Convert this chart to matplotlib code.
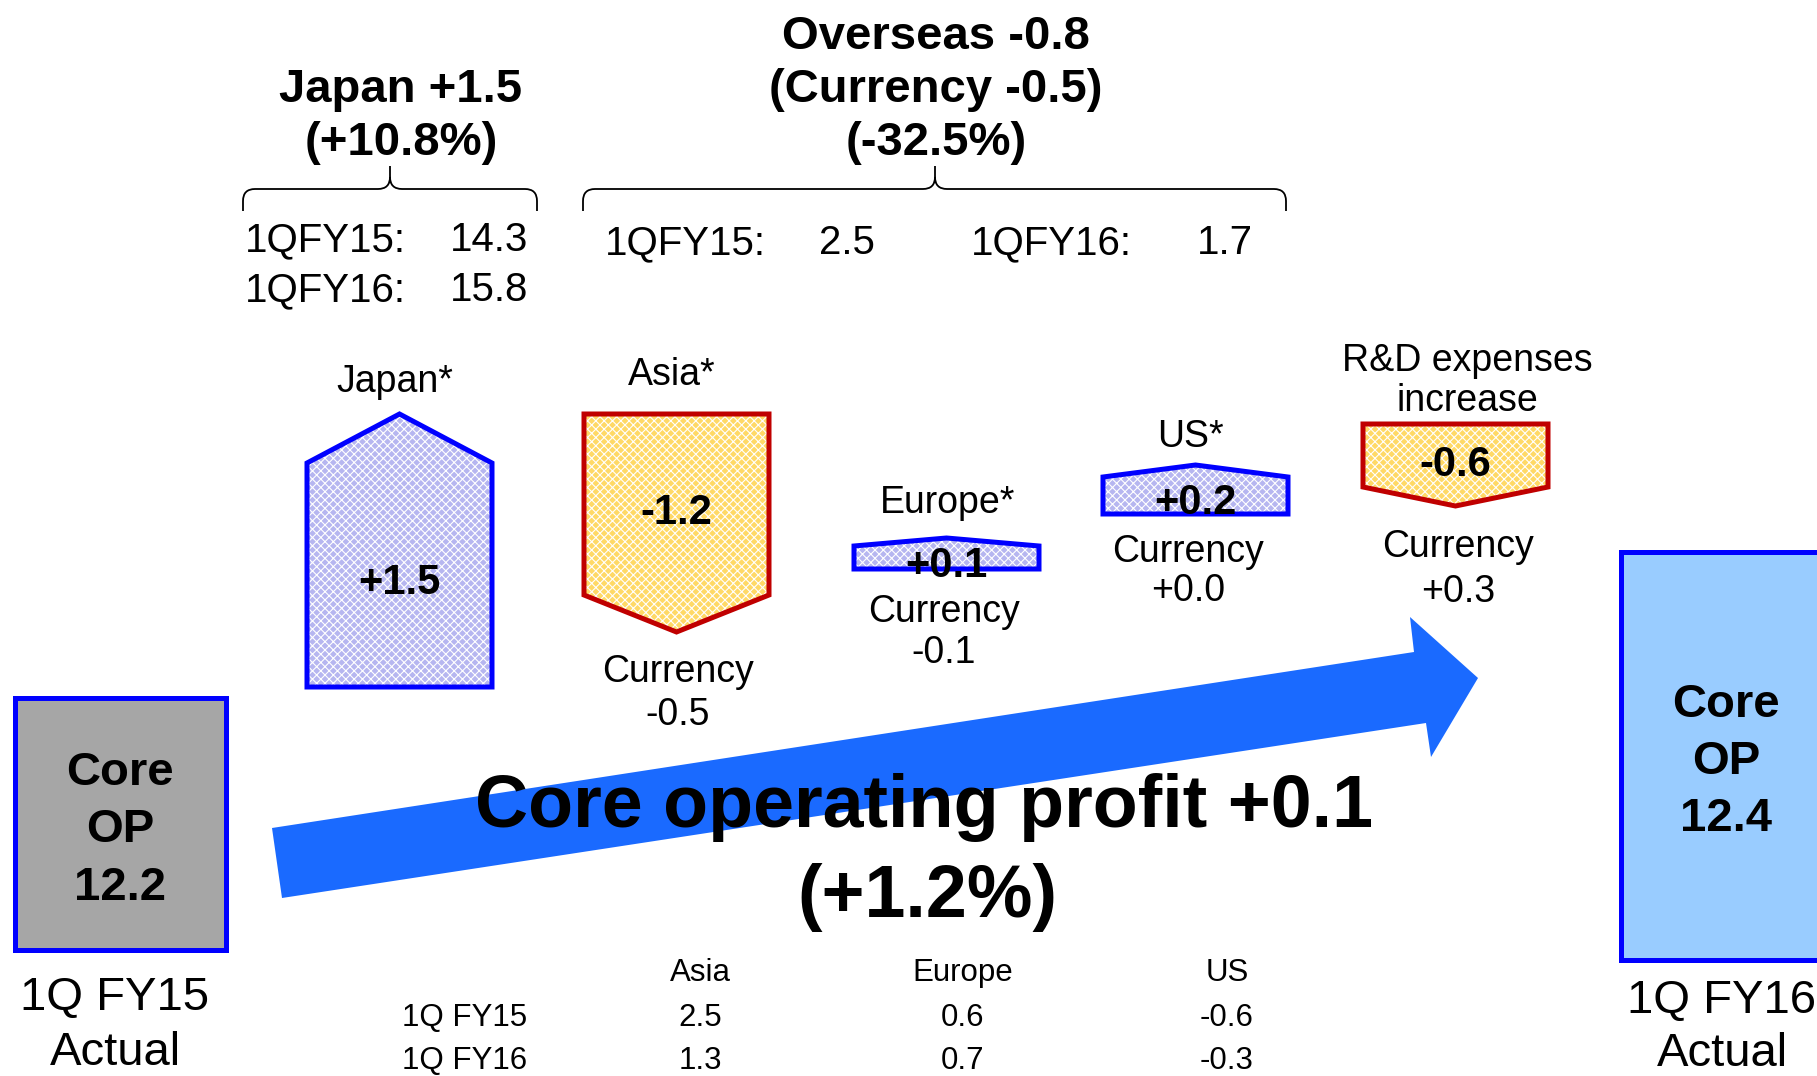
import matplotlib
matplotlib.use("Agg")
import matplotlib.pyplot as plt
from matplotlib.patches import Polygon, Rectangle, PathPatch
from matplotlib.path import Path

plt.rcParams['font.family'] = ['Liberation Sans', 'DejaVu Sans']
plt.rcParams['hatch.linewidth'] = 0.8

# ---------------- data ----------------
segments = ["Japan*", "Asia*", "Europe*", "US*", "R&D expenses\nincrease"]
changes = [1.5, -1.2, 0.1, 0.2, -0.6]
currency = [None, -0.5, -0.1, 0.0, 0.3]

core_op = [12.2, 12.4]
period_labels = ["1Q FY15\nActual", "1Q FY16\nActual"]

japan_total = [14.3, 15.8]
overseas_total = [2.5, 1.7]
period_short = ["1QFY15:", "1QFY16:"]

japan_change, japan_pct = 1.5, 10.8
overseas_change, overseas_ccy, overseas_pct = -0.8, -0.5, -32.5
total_change, total_pct = 0.1, 1.2

table_cols = ["Asia", "Europe", "US"]
table_rows = ["1Q FY15", "1Q FY16"]
table_fy15 = [2.5, 0.6, -0.6]
table_fy16 = [1.3, 0.7, -0.3]

# ---------------- layout (pixel space) ----------------
W, H = 1817, 1076
fig = plt.figure(figsize=(W / 100, H / 100), dpi=100)
ax = fig.add_axes([0, 0, 1, 1])
ax.set_xlim(0, W)
ax.set_ylim(H, 0)
ax.axis('off')

DY = 5  # vertical text offset (center of glyphs vs. bbox)

BLUE = '#0000FF'
RED = '#C00000'
LAV = '#B6B6F0'
YEL = '#FFD966'
ARROW = '#1A6AFF'

# shape geometry: left x, right x, top y, shoulder y, bottom y
shape_x0 = [307, 584, 854, 1103, 1363]
shape_w = 185
shape_top = [414, 414, 538, 465, 424]
shape_shoulder = [463, 595, 546, 477, 487]
shape_bottom = [687, 632, 569, 514, 506]
value_y = [578, 508, 561, 498, 460]
label_x = [395, 672, 948, 1190, 1467]
label_y = [[377], [370], [498], [432], [356, 396]]
ccy_x = [None, 678, 944, 1188, 1458]
ccy_y = [None, (667, 710), (607, 648), (547, 586), (542, 587)]


def txt(x, y, s, **kw):
    ax.text(x, y + DY, s, ha=kw.pop('ha', 'center'), va='center', **kw)


def draw_shape(i):
    x0 = shape_x0[i]
    x1 = x0 + shape_w
    xc = (x0 + x1) / 2
    t, s, b = shape_top[i], shape_shoulder[i], shape_bottom[i]
    if changes[i] >= 0:
        pts = [(x0, b), (x0, s), (xc, t), (x1, s), (x1, b)]
        fc, ec = LAV, BLUE
    else:
        pts = [(x0, t), (x1, t), (x1, s), (xc, b), (x0, s)]
        fc, ec = YEL, RED
    ax.add_patch(Polygon(pts, closed=True, facecolor=fc, edgecolor='white',
                         linewidth=0, hatch='xxxx', zorder=2))
    ax.add_patch(Polygon(pts, closed=True, facecolor='none', edgecolor=ec,
                         linewidth=3.6, joinstyle='miter', zorder=3))
    txt(xc, value_y[i], f"{changes[i]:+.1f}", fontsize=30, fontweight='bold', zorder=5)
    for ln, yy in zip(segments[i].split("\n"), label_y[i]):
        txt(label_x[i], yy, ln, fontsize=27, zorder=5)
    if currency[i] is not None:
        cy = ccy_y[i]
        txt(ccy_x[i], cy[0], "Currency", fontsize=27, zorder=5)
        txt(ccy_x[i], cy[1], f"{currency[i]:+.1f}", fontsize=27, zorder=5)


for i in range(len(segments)):
    draw_shape(i)

# ---------------- big arrow ----------------
arrow_pts = [(272, 828), (1414, 652), (1410, 617), (1478, 678),
             (1431, 757), (1426, 723), (282, 898)]
ax.add_patch(Polygon(arrow_pts, closed=True, facecolor=ARROW, edgecolor='none', zorder=1))

txt(924, 802, f"Core operating profit {total_change:+.1f}", fontsize=53, fontweight='bold', zorder=6)
txt(927, 892, f"({total_pct:+.1f}%)", fontsize=53, fontweight='bold', zorder=6)

# ---------------- Core OP boxes ----------------
ax.add_patch(Rectangle((15, 698), 211, 252, facecolor='#A6A6A6', edgecolor=BLUE,
                       linewidth=3.6, zorder=3))
ax.add_patch(Rectangle((1621, 552), 260, 408, facecolor='#99CCFF', edgecolor=BLUE,
                       linewidth=3.6, zorder=3, clip_on=True))
for cx, ys, v in [(120, (768, 825, 883), core_op[0]), (1726, (700, 757, 814), core_op[1])]:
    for t_, yy in zip(["Core", "OP", f"{v:.1f}"], ys):
        txt(cx, yy, t_, fontsize=34, fontweight='bold', zorder=5)

for cx, ys, lab in [(115, (993, 1048), period_labels[0]), (1722, (996, 1049), period_labels[1])]:
    for t_, yy in zip(lab.split("\n"), ys):
        txt(cx, yy, t_, fontsize=34, zorder=5)

# ---------------- top headers ----------------
txt(401, 85, f"Japan {japan_change:+.1f}", fontsize=34, fontweight='bold')
txt(401, 138, f"({japan_pct:+.1f}%)", fontsize=34, fontweight='bold')
txt(936, 32, f"Overseas {overseas_change:+.1f}", fontsize=34, fontweight='bold')
txt(936, 85, f"(Currency {overseas_ccy:+.1f})", fontsize=34, fontweight='bold')
txt(936, 138, f"({overseas_pct:+.1f}%)", fontsize=34, fontweight='bold')


def brace(x0, x1, xc, y_end, y_mid, y_top, r=12):
    verts = [(x0, y_end), (x0, y_mid + r), (x0, y_mid), (x0 + r, y_mid),
             (xc - r, y_mid), (xc, y_mid), (xc, y_mid - r), (xc, y_top),
             (xc, y_mid - r), (xc, y_mid), (xc + r, y_mid),
             (x1 - r, y_mid), (x1, y_mid), (x1, y_mid + r), (x1, y_end)]
    codes = [Path.MOVETO, Path.LINETO, Path.CURVE3, Path.CURVE3,
             Path.LINETO, Path.CURVE3, Path.CURVE3, Path.LINETO,
             Path.MOVETO, Path.CURVE3, Path.CURVE3,
             Path.LINETO, Path.CURVE3, Path.CURVE3, Path.LINETO]
    ax.add_patch(PathPatch(Path(verts, codes), facecolor='none', edgecolor='black', linewidth=1.3))


brace(243, 537, 390, 211, 189, 166)
brace(583, 1286, 935, 211, 189, 166)

# Japan totals
for lab, v, yy in zip(period_short, japan_total, (235, 285)):
    txt(245, yy, lab, ha='left', fontsize=29)
    txt(528, yy, f"{v:.1f}", ha='right', fontsize=29)
# Overseas totals
for lab, v, xl, xr in zip(period_short, overseas_total, (605, 971), (875, 1253)):
    txt(xl, 238, lab, ha='left', fontsize=29)
    txt(xr, 238, f"{v:.1f}", ha='right', fontsize=29)

# ---------------- bottom table ----------------
col_x = [700, 963, 1227]
for cx, name in zip(col_x, table_cols):
    txt(cx, 968, name, fontsize=22.5)
for rl, vals, yy in zip(table_rows, (table_fy15, table_fy16), (1013, 1056)):
    txt(465, yy, rl, fontsize=22.5)
    for cx, v in zip(col_x, vals):
        txt(cx, yy, f"{v:.1f}", fontsize=22.5)

fig.savefig("out.png", dpi=100)
